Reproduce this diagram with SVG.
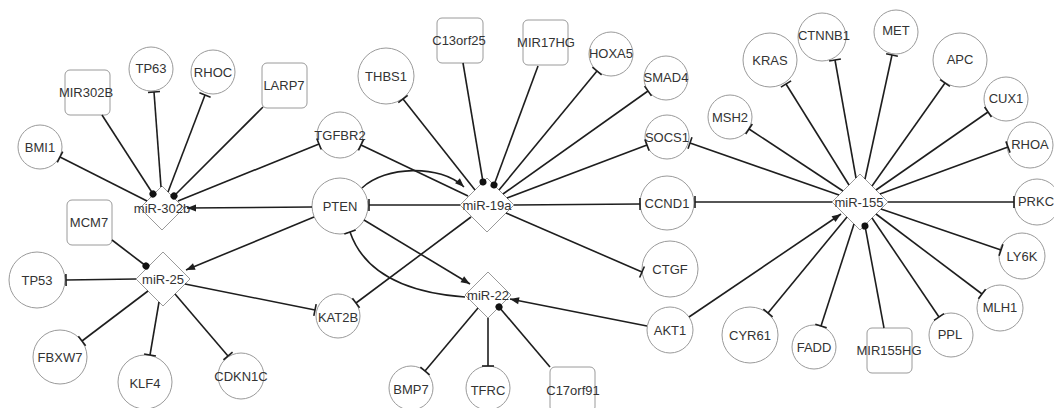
<svg xmlns="http://www.w3.org/2000/svg" width="1054" height="408" viewBox="0 0 1054 408">
<style>
.n circle,.n rect,.n polygon{fill:#fff;stroke:#9a9a9a;stroke-width:1}
.n text{font-family:"Liberation Sans",Arial,sans-serif;font-size:13px;fill:#333;text-anchor:middle}
.e line,.e path{stroke:#1e1e1e;stroke-width:1.6;fill:none}
.bar{marker-end:url(#bar)}
.arr{marker-end:url(#arr)}
.dot{marker-end:url(#dot)}
</style>
<defs>
<marker id="bar" viewBox="-2 -7 4 14" refX="0" refY="0" markerWidth="4" markerHeight="14" markerUnits="userSpaceOnUse" orient="auto"><path d="M0,-6V6" stroke="#1e1e1e" stroke-width="1.6"/></marker>
<marker id="arr" viewBox="-10 -5 11 10" refX="0" refY="0" markerWidth="11" markerHeight="10" markerUnits="userSpaceOnUse" orient="auto"><path d="M-9,-3.5L0,0L-9,3.5Z" fill="#1e1e1e"/></marker>
<marker id="dot" viewBox="-4 -4 8 8" refX="0" refY="0" markerWidth="8" markerHeight="8" markerUnits="userSpaceOnUse" orient="auto"><circle r="3.5" fill="#111"/></marker>
</defs>
<rect width="1054" height="408" fill="#fff"/>
<g id="nodes">
<g id="BMI1" class="n"><circle cx="40" cy="147" r="22"/><text x="40" y="147" dy="0.35em">BMI1</text></g>
<g id="MIR302B" class="n"><rect x="65" y="70" width="45" height="45" rx="5"/><text x="86" y="92" dy="0.35em">MIR302B</text></g>
<g id="TP63" class="n"><circle cx="151" cy="69" r="22"/><text x="151" y="68" dy="0.35em">TP63</text></g>
<g id="RHOC" class="n"><circle cx="213" cy="72" r="22"/><text x="213" y="72" dy="0.35em">RHOC</text></g>
<g id="LARP7" class="n"><rect x="262" y="63" width="45" height="45" rx="5"/><text x="284" y="85" dy="0.35em">LARP7</text></g>
<g id="TGFBR2" class="n"><circle cx="340" cy="135" r="23"/><text x="340" y="135" dy="0.35em">TGFBR2</text></g>
<g id="PTEN" class="n"><circle cx="340" cy="206" r="28"/><text x="340" y="206" dy="0.35em">PTEN</text></g>
<g id="miR-302b" class="n"><polygon points="162,186 184,208 162,230 140,208"/><text x="162" y="208" dy="0.35em">miR-302b</text></g>
<g id="MCM7" class="n"><rect x="67" y="200" width="45" height="45" rx="5"/><text x="89" y="222" dy="0.35em">MCM7</text></g>
<g id="miR-25" class="n"><polygon points="163,252 190,279 163,306 136,279"/><text x="163" y="279" dy="0.35em">miR-25</text></g>
<g id="TP53" class="n"><circle cx="37" cy="280" r="28"/><text x="37" y="280" dy="0.35em">TP53</text></g>
<g id="FBXW7" class="n"><circle cx="60" cy="357" r="27"/><text x="60" y="357" dy="0.35em">FBXW7</text></g>
<g id="KLF4" class="n"><circle cx="145" cy="382" r="27"/><text x="145" y="383" dy="0.35em">KLF4</text></g>
<g id="CDKN1C" class="n"><circle cx="241" cy="376" r="23"/><text x="241" y="376" dy="0.35em">CDKN1C</text></g>
<g id="KAT2B" class="n"><circle cx="338" cy="316" r="22"/><text x="338" y="317" dy="0.35em">KAT2B</text></g>
<g id="THBS1" class="n"><circle cx="386" cy="76" r="28"/><text x="386" y="76" dy="0.35em">THBS1</text></g>
<g id="C13orf25" class="n"><rect x="437" y="18" width="46" height="45" rx="5"/><text x="459" y="40" dy="0.35em">C13orf25</text></g>
<g id="MIR17HG" class="n"><rect x="523" y="20" width="45" height="45" rx="5"/><text x="546" y="42" dy="0.35em">MIR17HG</text></g>
<g id="HOXA5" class="n"><circle cx="611" cy="54" r="22"/><text x="611" y="53" dy="0.35em">HOXA5</text></g>
<g id="SMAD4" class="n"><circle cx="666" cy="78" r="22"/><text x="666" y="77" dy="0.35em">SMAD4</text></g>
<g id="SOCS1" class="n"><circle cx="667" cy="137" r="22"/><text x="667" y="137" dy="0.35em">SOCS1</text></g>
<g id="CCND1" class="n"><circle cx="667" cy="203" r="27"/><text x="667" y="203" dy="0.35em">CCND1</text></g>
<g id="CTGF" class="n"><circle cx="670" cy="269" r="28"/><text x="670" y="269" dy="0.35em">CTGF</text></g>
<g id="miR-19a" class="n"><polygon points="487,178 514,205 487,232 460,205"/><text x="487" y="205" dy="0.35em">miR-19a</text></g>
<g id="miR-22" class="n"><polygon points="488,272 511,295 488,318 465,295"/><text x="488" y="295" dy="0.35em">miR-22</text></g>
<g id="AKT1" class="n"><circle cx="670" cy="330" r="23"/><text x="670" y="330" dy="0.35em">AKT1</text></g>
<g id="BMP7" class="n"><circle cx="411" cy="388" r="22"/><text x="411" y="389" dy="0.35em">BMP7</text></g>
<g id="TFRC" class="n"><circle cx="488" cy="388" r="22"/><text x="488" y="390" dy="0.35em">TFRC</text></g>
<g id="C17orf91" class="n"><rect x="550" y="367" width="45" height="45" rx="5"/><text x="573" y="390" dy="0.35em">C17orf91</text></g>
<g id="MSH2" class="n"><circle cx="730" cy="117" r="22"/><text x="730" y="117" dy="0.35em">MSH2</text></g>
<g id="KRAS" class="n"><circle cx="770" cy="60" r="27"/><text x="770" y="60" dy="0.35em">KRAS</text></g>
<g id="CTNNB1" class="n"><circle cx="822" cy="37" r="24"/><text x="824" y="35" dy="0.35em">CTNNB1</text></g>
<g id="MET" class="n"><circle cx="896" cy="32" r="22"/><text x="896" y="30" dy="0.35em">MET</text></g>
<g id="APC" class="n"><circle cx="960" cy="60" r="27"/><text x="960" y="59" dy="0.35em">APC</text></g>
<g id="CUX1" class="n"><circle cx="1006" cy="99" r="22"/><text x="1006" y="98" dy="0.35em">CUX1</text></g>
<g id="RHOA" class="n"><circle cx="1030" cy="145" r="23"/><text x="1030" y="144" dy="0.35em">RHOA</text></g>
<g id="PRKC" class="n"><circle cx="1037" cy="202" r="23"/><text x="1036" y="201" dy="0.35em">PRKC</text></g>
<g id="LY6K" class="n"><circle cx="1022" cy="256" r="23"/><text x="1022" y="256" dy="0.35em">LY6K</text></g>
<g id="MLH1" class="n"><circle cx="1000" cy="308" r="23"/><text x="1000" y="307" dy="0.35em">MLH1</text></g>
<g id="PPL" class="n"><circle cx="951" cy="335" r="22"/><text x="950" y="334" dy="0.35em">PPL</text></g>
<g id="MIR155HG" class="n"><rect x="867" y="328" width="45" height="45" rx="5"/><text x="889" y="350" dy="0.35em">MIR155HG</text></g>
<g id="FADD" class="n"><circle cx="814" cy="347" r="22"/><text x="814" y="347" dy="0.35em">FADD</text></g>
<g id="CYR61" class="n"><circle cx="750" cy="335" r="28"/><text x="750" y="335" dy="0.35em">CYR61</text></g>
<g id="miR-155" class="n"><polygon points="860,174 888,202 860,230 832,202"/><text x="859" y="202" dy="0.35em">miR-155</text></g>
</g>
<g id="connectors" class="e">
<line class="bar" x1="147" y1="201" x2="60" y2="157"/>
<line class="dot" x1="102" y1="115" x2="153" y2="194"/>
<line class="bar" x1="161" y1="187" x2="154" y2="92"/>
<line class="bar" x1="168" y1="192" x2="205" y2="95"/>
<line class="dot" x1="263" y1="107" x2="174" y2="196"/>
<line class="bar" x1="178" y1="201" x2="319" y2="144"/>
<line class="arr" x1="312" y1="207" x2="187" y2="208"/>
<line class="dot" x1="112" y1="240" x2="146" y2="266"/>
<line class="arr" x1="314" y1="217" x2="186" y2="270"/>
<line class="bar" x1="136" y1="279" x2="66" y2="280"/>
<line class="bar" x1="148" y1="291" x2="82" y2="341"/>
<line class="bar" x1="159" y1="302" x2="150" y2="355"/>
<line class="bar" x1="175" y1="294" x2="228" y2="356"/>
<line class="bar" x1="185" y1="284" x2="315" y2="310"/>
<line class="bar" x1="460" y1="205" x2="369" y2="205"/>
<path class="arr" d="M362,188 C385,166 440,164 464,187"/>
<line class="bar" x1="468" y1="196" x2="361" y2="145"/>
<line class="bar" x1="475" y1="190" x2="403" y2="99"/>
<line class="dot" x1="463" y1="63" x2="483" y2="182"/>
<line class="dot" x1="538" y1="66" x2="494" y2="185"/>
<line class="bar" x1="499" y1="190" x2="597" y2="71"/>
<line class="bar" x1="503" y1="194" x2="648" y2="91"/>
<line class="bar" x1="507" y1="198" x2="647" y2="145"/>
<line class="bar" x1="514" y1="205" x2="640" y2="204"/>
<line class="bar" x1="506" y1="213" x2="642" y2="272"/>
<line class="bar" x1="471" y1="217" x2="356" y2="303"/>
<line class="arr" x1="364" y1="220" x2="470" y2="284"/>
<path class="bar" d="M465,297 Q370,290 350,232"/>
<line class="arr" x1="647" y1="326" x2="510" y2="299"/>
<line class="bar" x1="478" y1="308" x2="425" y2="371"/>
<line class="bar" x1="488" y1="318" x2="488" y2="366"/>
<line class="dot" x1="550" y1="367" x2="499" y2="307"/>
<line class="arr" x1="689" y1="317" x2="841" y2="214"/>
<line class="bar" x1="839" y1="195" x2="690" y2="143"/>
<line class="bar" x1="832" y1="202" x2="695" y2="202"/>
<line class="bar" x1="843" y1="191" x2="749" y2="129"/>
<line class="bar" x1="849" y1="185" x2="786" y2="84"/>
<line class="bar" x1="856" y1="178" x2="835" y2="60"/>
<line class="bar" x1="865" y1="179" x2="892" y2="55"/>
<line class="bar" x1="872" y1="186" x2="945" y2="83"/>
<line class="bar" x1="876" y1="190" x2="988" y2="112"/>
<line class="bar" x1="880" y1="194" x2="1008" y2="147"/>
<line class="bar" x1="888" y1="202" x2="1014" y2="202"/>
<line class="bar" x1="881" y1="209" x2="1001" y2="250"/>
<line class="bar" x1="876" y1="214" x2="982" y2="294"/>
<line class="bar" x1="872" y1="218" x2="939" y2="317"/>
<line class="bar" x1="854" y1="224" x2="821" y2="326"/>
<line class="bar" x1="847" y1="217" x2="768" y2="313"/>
<line class="dot" x1="884" y1="328" x2="865" y2="226"/>
</g>
</svg>
